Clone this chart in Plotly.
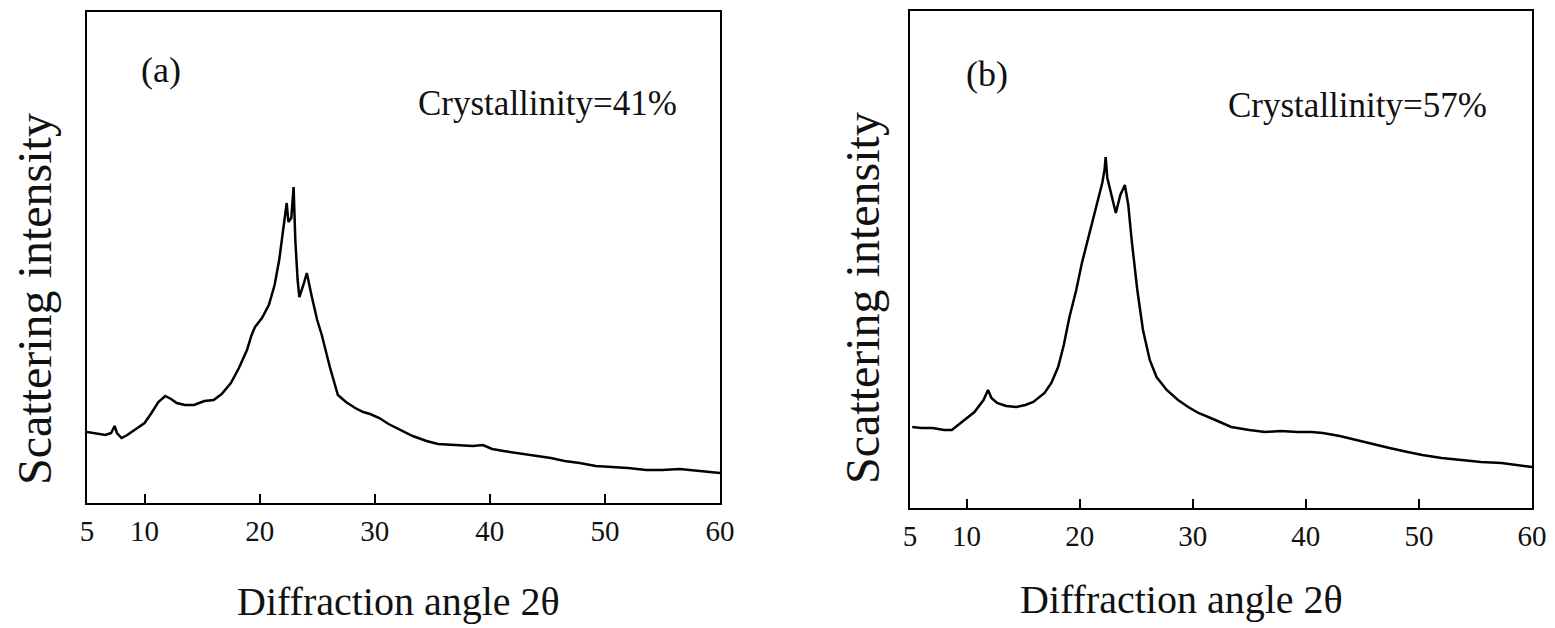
import plotly.graph_objects as go

# Panel (a): diffraction angle 2θ and scattering intensity (arbitrary units)
angle_a = [5.0, 6.0, 6.6, 7.1, 7.4, 7.6, 8.0, 8.5, 9.1, 10.0, 10.6, 11.2, 11.8, 12.3, 12.8,
           13.5, 14.3, 15.2, 16.0, 16.7, 17.5, 18.2, 18.9, 19.3, 19.6, 20.2, 20.8, 21.3,
           21.7, 22.0, 22.2, 22.35, 22.5, 22.75, 22.95, 23.1, 23.3, 23.45, 23.8, 24.1,
           24.5, 25.0, 25.4, 26.1, 26.8, 27.5, 28.3, 29.0, 29.6, 30.4, 31.2, 31.9, 33.3,
           34.5, 35.5, 37.0, 38.5, 39.4, 40.2, 41.2, 42.4, 44.0, 45.3, 46.5, 47.8, 49.2,
           50.7, 52.0, 53.6, 55.0, 56.5, 58.0, 60.0]
intensity_a = [71, 69, 68, 70, 77, 70, 65, 68, 73, 80, 90, 101, 107, 104, 100,
               98, 98, 102, 103, 109, 120, 135, 153, 168, 176, 185, 198, 218,
               243, 268, 288, 300, 281, 285, 316, 263, 223, 206, 218, 230,
               208, 183, 168, 136, 108, 101, 95, 91, 89, 85, 79, 75, 67,
               62, 59, 58, 57, 58, 54, 52, 50, 47, 45, 42, 40, 37,
               36, 35, 33, 33, 34, 32, 30]

# Panel (b)
angle_b = [5.2, 6.0, 7.0, 8.0, 8.7, 9.6, 10.7, 11.5, 11.9, 12.2, 12.7, 13.5, 14.4, 15.2,
           15.9, 16.9, 17.5, 18.1, 18.6, 19.1, 19.7, 20.2, 20.8, 21.3, 21.7, 22.0, 22.2,
           22.3, 22.45, 22.8, 23.2, 23.6, 24.0, 24.3, 24.6, 25.1, 25.6, 26.2, 26.8, 27.7,
           28.7, 29.6, 30.5, 32.0, 33.4, 35.0, 36.4, 37.8, 39.3, 40.5, 41.5, 43.0, 44.4,
           46.0, 47.4, 49.0, 50.3, 52.0, 53.6, 55.5, 57.3, 58.7, 60.0]
intensity_b = [81, 80, 80, 78, 78, 86, 96, 108, 118, 110, 105, 102, 101, 103,
               106, 115, 125, 141, 163, 191, 218, 245, 271, 295, 313, 325, 338,
               351, 330, 313, 295, 313, 323, 303, 268, 218, 178, 148, 131, 118,
               108, 101, 95, 88, 81, 78, 76, 77, 76, 76, 75, 72, 68,
               64, 60, 56, 53, 50, 48, 46, 45, 43, 41]

tick_vals = [5, 10, 20, 30, 40, 50, 60]
tick_text = ["5", "10", "20", "30", "40", "50", "60"]
panel_labels = ["(a)", "(b)"]
crystallinity = ["Crystallinity=41%", "Crystallinity=57%"]
x_title = "Diffraction angle 2θ"
y_title = "Scattering intensity"

W, H = 1555, 628
FONT = "Liberation Serif, Times New Roman, serif"

def px(x):
    return x / W

def py(y):
    return 1 - y / H

fig = go.Figure()
fig.add_trace(go.Scatter(x=angle_a, y=intensity_a, mode="lines", xaxis="x", yaxis="y",
                         line=dict(color="black", width=2.5), showlegend=False))
fig.add_trace(go.Scatter(x=angle_b, y=intensity_b, mode="lines", xaxis="x2", yaxis="y2",
                         line=dict(color="black", width=2.5), showlegend=False))

xaxis_common = dict(range=[5, 60], tickmode="array", tickvals=tick_vals, ticktext=tick_text,
                    ticks="inside", ticklen=9, tickwidth=2, tickcolor="black",
                    showline=True, linecolor="black", linewidth=2, mirror=True,
                    showgrid=False, zeroline=False, ticklabelstandoff=1, automargin=False,
                    tickfont=dict(family=FONT, size=29, color="#111"))
yaxis_common = dict(showline=True, linecolor="black", linewidth=2, mirror=True,
                    showgrid=False, zeroline=False, showticklabels=False, ticks="",
                    automargin=False)

fig.update_layout(
    width=W, height=H, autosize=False,
    margin=dict(l=0, r=0, t=0, b=0, pad=0),
    paper_bgcolor="white", plot_bgcolor="white",
    xaxis=dict(domain=[px(87), px(720)], anchor="y", **xaxis_common),
    yaxis=dict(domain=[py(503), py(12)], anchor="x", range=[0, 491], **yaxis_common),
    xaxis2=dict(domain=[px(910), px(1532)], anchor="y2", **xaxis_common),
    yaxis2=dict(domain=[py(508), py(11)], anchor="x2", range=[0, 497], **yaxis_common),
)

ann = []
# x titles
ann.append(dict(x=px(399), y=py(601), text=x_title, font=dict(size=40)))
ann.append(dict(x=px(1181), y=py(599), text=x_title, font=dict(size=40)))
# y titles
ann.append(dict(x=px(34), y=py(299), text=y_title, textangle=-90, font=dict(size=48)))
ann.append(dict(x=px(862), y=py(298), text=y_title, textangle=-90, font=dict(size=48)))
# panel labels
ann.append(dict(x=px(161), y=py(70), text=panel_labels[0], font=dict(size=36)))
ann.append(dict(x=px(987), y=py(74), text=panel_labels[1], font=dict(size=36)))
# crystallinity
ann.append(dict(x=px(547), y=py(103), text=crystallinity[0], font=dict(size=35)))
ann.append(dict(x=px(1357), y=py(106), text=crystallinity[1], font=dict(size=35)))

for a in ann:
    a.update(xref="paper", yref="paper", showarrow=False, xanchor="center", yanchor="middle")
    a["font"].update(family=FONT, color="#111")
fig.update_layout(annotations=ann)

fig.write_html("out.html", config={"displayModeBar": False},
               post_script="document.body.style.margin='0';document.body.style.overflow='hidden';")
